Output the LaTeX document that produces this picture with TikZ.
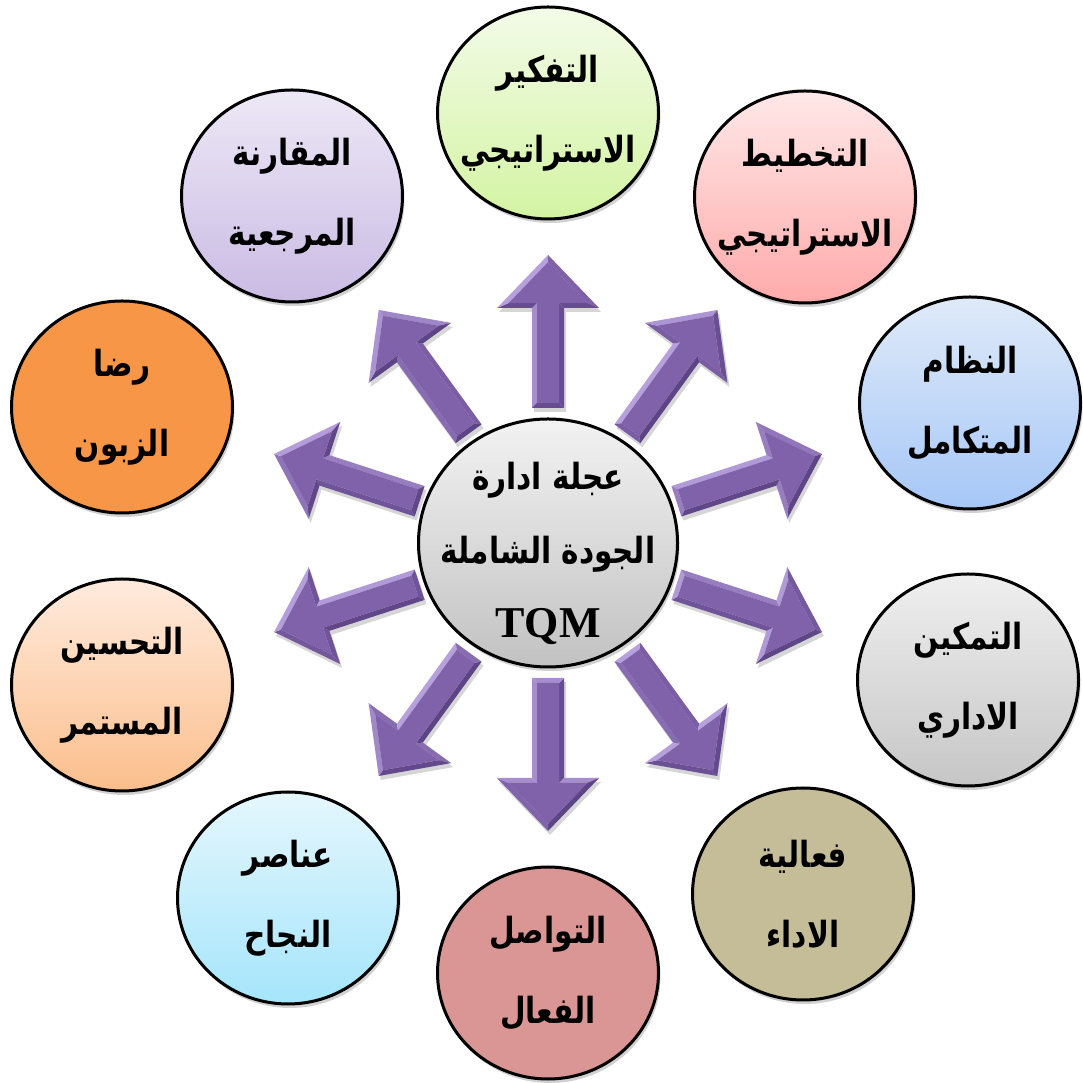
\documentclass[tikz,border=0pt]{standalone}
\usepackage{fontspec}
\usetikzlibrary{calc,shapes.geometric,shadows}
\TeXXeTstate=1
\newfontfamily\arabicfont[Script=Arabic, FakeStretch=0.82]{DejaVu Sans}
\newfontfamily\tqmfont{Liberation Serif}
\newcommand{\arl}[1]{\beginR#1\endR}
\definecolor{purpMid}{HTML}{7F62AA}
\definecolor{purpLight}{HTML}{C4B0EA}
\definecolor{purpDark}{HTML}{46306B}
\definecolor{gTop}{HTML}{F3FBE8}\definecolor{gBot}{HTML}{D3F4A2}
\definecolor{pTop}{HTML}{FFE8E8}\definecolor{pBot}{HTML}{FFAAAA}
\definecolor{bTop}{HTML}{DFEAF9}\definecolor{bBot}{HTML}{A6C7F7}
\definecolor{yTop}{HTML}{EFEFEF}\definecolor{yBot}{HTML}{C6C6C6}
\definecolor{khaki}{HTML}{C4BD97}
\definecolor{rose}{HTML}{D99694}
\definecolor{cTop}{HTML}{E5F7FD}\definecolor{cBot}{HTML}{A5E5FB}
\definecolor{oTop}{HTML}{FFEBDD}\definecolor{oBot}{HTML}{FBBE8C}
\definecolor{orng}{HTML}{F79646}
\definecolor{lTop}{HTML}{EDE8F6}\definecolor{lBot}{HTML}{CABBE4}
\definecolor{hTop}{HTML}{F2F2F2}\definecolor{hBot}{HTML}{C2C2C2}
\newcommand{\outerpoly}[1]{($(#1)+(\a:135)+(\a+90:16)$) -- ($(#1)+(\a:235)+(\a+90:16)$) -- ($(#1)+(\a:235)+(\a+90:51)$) -- ($(#1)+(\a:288)$) -- ($(#1)+(\a:235)+(\a-90:51)$) -- ($(#1)+(\a:235)+(\a-90:16)$) -- ($(#1)+(\a:135)+(\a-90:16)$) -- cycle}
\newcommand{\innerpoly}[1]{($(#1)+(\a:140)+(\a+90:11)$) -- ($(#1)+(\a:240)+(\a+90:11)$) -- ($(#1)+(\a:240)+(\a+90:39.25)$) -- ($(#1)+(\a:280.8)$) -- ($(#1)+(\a:240)+(\a-90:39.25)$) -- ($(#1)+(\a:240)+(\a-90:11)$) -- ($(#1)+(\a:140)+(\a-90:11)$) -- cycle}
\tikzset{
  bub/.style={ellipse, draw=black, line width=3pt, minimum width=221pt, minimum height=212pt,
    inner sep=0pt,
    drop shadow={shadow xshift=2pt, shadow yshift=-4pt, opacity=.18, fill=black}},
  grad/.style 2 args={top color=#1, bottom color=#2},
  lbl/.style={align=center, inner sep=0pt, font=\arabicfont\bfseries\fontsize{36}{80}\selectfont},
  hublbl/.style={align=center, inner sep=0pt, font=\arabicfont\bfseries\fontsize{36}{74}\selectfont},
  hubstyle/.style={ellipse, draw=black, line width=3pt, minimum width=259pt, minimum height=248pt,
    inner sep=0pt, top color=hTop, bottom color=hBot,
    drop shadow={shadow xshift=2pt, shadow yshift=-4pt, opacity=.18, fill=black}}
}
\begin{document}
\begin{tikzpicture}[x=1pt,y=1pt]
\useasboundingbox[fill=white] (0,0) rectangle (1083,1083);
\coordinate (C) at (548,540);
\coordinate (CS) at (550,536);
% block arrows
\foreach \a in {90,54,18,-18,-54,-90,-126,-162,162,126}{
  \fill[black,opacity=.16] \outerpoly{CS};
  \foreach \sa/\ta/\sb/\tb/\sc/\tc/\sd/\td/\n in {
     135/16/235/16/240/11/140/11/90,
     235/16/235/51/240/39.25/240/11/180,
     235/51/288/0/280.8/0/240/39.25/46,
     288/0/235/-51/240/-39.25/280.8/0/-46,
     235/-51/235/-16/240/-11/240/-39.25/180,
     235/-16/135/-16/140/-11/240/-11/-90,
     135/-16/135/16/140/11/140/-11/180}{
    \pgfmathsetmacro{\br}{cos(\a+\n-135)}
    \pgfmathsetmacro{\pl}{max(\br,0)*80}
    \pgfmathsetmacro{\pd}{max(-\br,0)*60}
    \colorlet{fc}{purpLight!\pl!purpMid}
    \colorlet{fc}{purpDark!\pd!fc}
    \fill[fc] ($(C)+(\a:\sa)+(\a+90:\ta)$) -- ($(C)+(\a:\sb)+(\a+90:\tb)$) -- ($(C)+(\a:\sc)+(\a+90:\tc)$) -- ($(C)+(\a:\sd)+(\a+90:\td)$) -- cycle;
  }
  \fill[purpMid] \innerpoly{C};
}
% outer circles
\node[bub, grad={gTop}{gBot}] (n1) at (548,970) {};
\node[bub, grad={pTop}{pBot}] (n2) at (805,886) {};
\node[bub, grad={bTop}{bBot}] (n3) at (970,680) {};
\node[bub, grad={yTop}{yBot}] (n4) at (968,403) {};
\node[bub, fill=khaki] (n5) at (803,189) {};
\node[bub, fill=rose] (n6) at (548,110) {};
\node[bub, grad={cTop}{cBot}] (n7) at (288,185) {};
\node[bub, grad={oTop}{oBot}] (n8) at (122,398) {};
\node[bub, fill=orng] (n9) at (122,676) {};
\node[bub, grad={lTop}{lBot}] (n10) at (292,887) {};
\node[lbl] (t1) at (n1) {\arl{التفكير}\\\arl{الاستراتيجي}};
\node[lbl] (t2) at (n2) {\arl{التخطيط}\\\arl{الاستراتيجي}};
\node[lbl] (t3) at (n3) {\arl{النظام}\\\arl{المتكامل}};
\node[lbl] (t4) at (n4) {\arl{التمكين}\\\arl{الاداري}};
\node[lbl] (t5) at (n5) {\arl{فعالية}\\\arl{الاداء}};
\node[lbl] (t6) at (n6) {\arl{التواصل}\\\arl{الفعال}};
\node[lbl] (t7) at (n7) {\arl{عناصر}\\\arl{النجاح}};
\node[lbl] (t8) at (n8) {\arl{التحسين}\\\arl{المستمر}};
\node[lbl] (t9) at (n9) {\arl{رضا}\\\arl{الزبون}};
\node[lbl] (t10) at (n10) {\arl{المقارنة}\\\arl{المرجعية}};
% hub
\node[hubstyle] (hub) at (C) {};
\node[hublbl] (hubt) at ($(hub.center)+(0,-10)$) {\arl{عجلة ادارة}\\\arl{الجودة الشاملة}\\{\tqmfont\bfseries\fontsize{44}{74}\selectfont TQM}};
\end{tikzpicture}
\end{document}
